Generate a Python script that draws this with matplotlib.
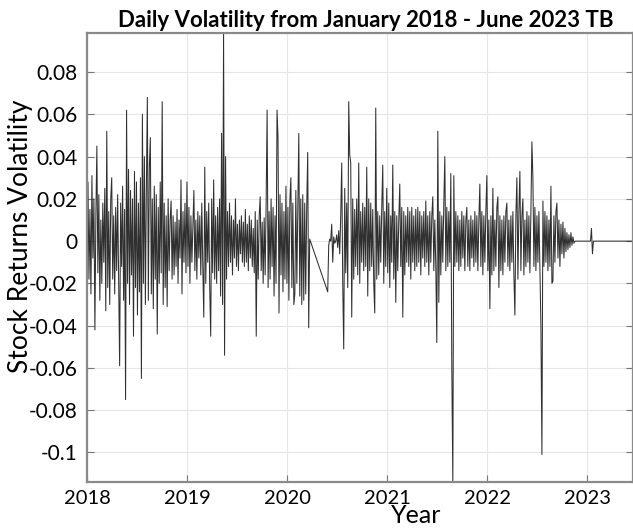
import numpy as np
import matplotlib
matplotlib.use("Agg")
import matplotlib.pyplot as plt
from matplotlib.ticker import FuncFormatter

# daily return volatility, units of 1e-3
vol_2018_2020 = [
    -12, 28, -18, 15, -25, 31, -8, 20, -42, 12,
    45, -15, 22, -28, 10, -20, 18, -10, 25, -33,
    52, -22, 14, -30, 20, 30, -18, 12, -25, 16,
    -14, 22, -20, -59, 18, -12, 26, -28, 15, -75,
    62, -20, 34, -30, 24, -16, 20, -45, 33, -22,
    28, -35, 18, -24, 30, -65, 60, -20, 40, -30,
    25, 68, -28, 35, 49, -25, 20, -32, 26, -18,
    22, -44, 16, -20, 28, -15, 66, -30, 18, -22,
    12, -31, 20, -14, 10, 19, -18, 12, -16, 9,
    -12, 15, -20, 10, -8, 29, -25, 14, -10, 18,
    -15, 28, -12, 16, -20, 12, -10, 8, 24, -14,
    10, -18, 14, -8, 12, -16, 18, -12, -36, 35,
    -20, 14, -10, 18, -22, -45, 20, -15, 29, -18,
    12, -20, 16, -14, 20, -26, 51, -30, 98.5, -54,
    40, -18, 14, -12, 18, -10, 12, -16, 10, -8,
    20, -12, 8, -14, 10, -6, 12, -10, 9, -12,
    15, -10, 8, -14, 12, -8, 10, -12, 6, -15,
    14, -45, 10, -18, 12, 21, -14, 9, -20, 11,
    -16, 18, 62, -22, 14, -18, 20, -12, 16, -26,
    12, -20, 62, 49, -34, 22, -16, 18, -24, 14,
    -18, 26, -20, 16, -28, 20, 30, -22, 18, -30,
    -25, 24, -20, 16, 51, -26, 20, -30, 22, -28,
    18, -25, 16, 42, -41, 1,
]

vol_2020_2022 = [
    -24, -2, 1, 0, 8, -10, 2, -1, 0, 3,
    -3, 5, -6, 12, 37, -20, -51, 25, -15, 18,
    -22, 66, 41, 37, -36, 20, -18, 15, -12, 20,
    -16, 37, -20, 14, -10, 18, -14, 16, -12, 35,
    -26, 20, -14, 18, -12, 15, -20, -34, 63, -18,
    14, -16, 12, -10, 16, 36, -20, 14, -12, 25,
    -15, 18, -22, 12, -10, 36, -18, 14, -29, 12,
    -14, 10, 27, -12, 16, -36, 14, -16, 12, -10,
    16, -12, 14, -18, 16, -10, 12, -14, 15, -12,
    16, -10, 14, -16, 12, -8, 14, -12, 19, -10,
    12, -16, 14, -10, 12, 21, -14, 10, -12, -48,
    52, -29, 14, -16, 12, -10, 18, 40, -14, 16,
    -12, 14, -10, 32, -61, -114, 31, -12, 14, -10,
    12, -14, 10, -12, 14, -8, 12, -14, 10, 16,
    -12, 10, -14, 12, -8, 10, -12, 14, -10, 12,
    -14, 10, 27, -12, 14, -16, 12, -10, 14, 31,
    -14, 10, -32, 12, -16, 25, -14, 10, -12, 16,
    21, -22, 12, -14, 10, -16, 12, -10, 14, 18,
    -12, 10, -14, 12, -10, 14, -16, -35, 12, 30,
    -18, 14, 33, -14, 12, 20, -16, 10, -12, 14,
    -10, 12, -15, 14, 47, 30, -12, 16, -14, 12,
    -10, 14, -12, -40, -101, 19, -12, 14, -10, 12,
    -14, 10, -12, 26, -20, -19, 12, -10, 14, 18,
    -8, 10, -12, 8, -6, 9, -8, 6, -5, 4,
    -4, 3, -3, 4, -2, 2, -1, 0,
]

# flat tail after trading stops
tail_years = [2022.90, 2023.03, 2023.04, 2023.05, 2023.06, 2023.50]
tail_vol = [0, 0, 6, -6, 0, 0]

year_ticks = [2018, 2019, 2020, 2021, 2022, 2023]
vol_ticks = [-0.1, -0.08, -0.06, -0.04, -0.02, 0, 0.02, 0.04, 0.06, 0.08]

x1 = np.linspace(2018.0, 2020.225, len(vol_2018_2020))
x2 = np.linspace(2020.405, 2022.875, len(vol_2020_2022))
x = np.concatenate([x1, x2, tail_years])
y = np.concatenate([vol_2018_2020, vol_2020_2022, tail_vol]) / 1000.0

plt.rcParams["font.family"] = ["Lato", "DejaVu Sans"]

fig = plt.figure(figsize=(6.33, 5.28), dpi=100)
ax = fig.add_axes([0.1374, 0.0871, 0.8626, 0.8504])

ax.plot(x, y, color="#303030", linewidth=0.75)

ax.set_xlim(2018, 2023.455)
ax.set_ylim(y.min(), y.max())
ax.set_xticks(year_ticks)
ax.set_yticks(vol_ticks)
ax.yaxis.set_major_formatter(FuncFormatter(lambda v, _: f"{v:g}"))
ax.tick_params(direction="in", length=5, width=0.8, color="#777777",
               labelsize=15, top=False, right=True, pad=7)
ax.tick_params(axis="x", labelsize=14.5, pad=6)
ax.grid(True, color="#e6e6e6", linewidth=0.8)
for s in ax.spines.values():
    s.set_color("#8a8a8a")
    s.set_linewidth(1.6)

ax.set_xlabel("Year", fontsize=18)
ax.xaxis.set_label_coords(0.603, -0.074)
ax.xaxis.label.set_va("center")
ax.set_ylabel("Stock Returns Volatility", fontsize=19)
ax.yaxis.set_label_coords(-0.122, 0.548)
ax.yaxis.label.set_va("center")
ax.set_title("Daily Volatility from January 2018 - June 2023 TB",
             fontsize=16, fontweight="bold", x=0.511, pad=4)

fig.savefig("out.png", dpi=100)
